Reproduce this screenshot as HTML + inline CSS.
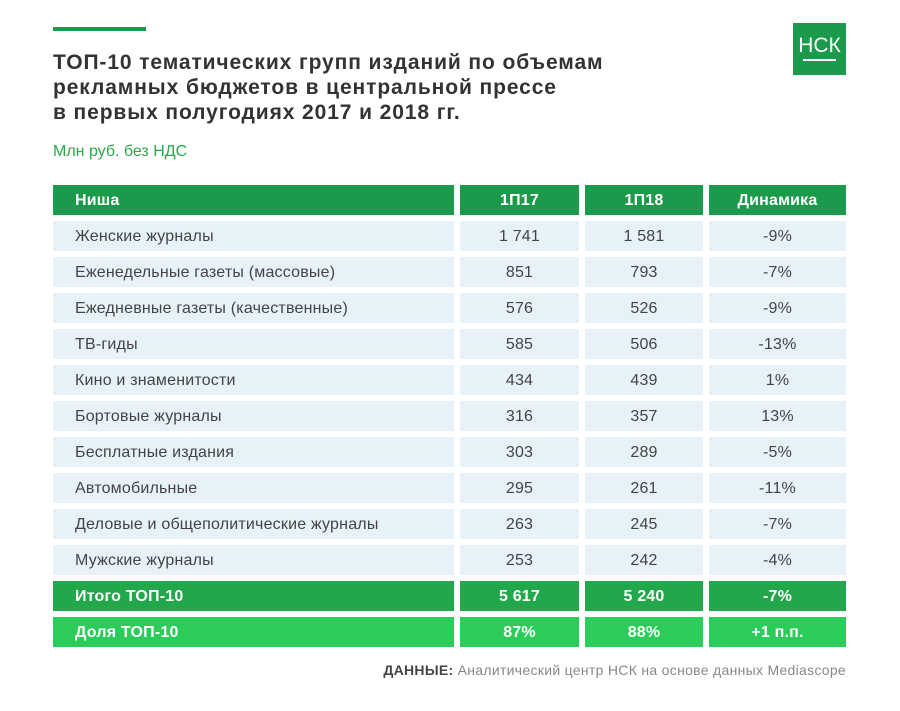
<!DOCTYPE html>
<html><head><meta charset="utf-8"><style>
body{margin:0;width:900px;height:711px;background:#fff;font-family:"Liberation Sans","DejaVu Sans",sans-serif;position:relative;overflow:hidden}
.a{position:absolute}
.cell{position:absolute;height:30px;line-height:32px;font-size:16px;color:#444;text-align:center;letter-spacing:0.2px}
.l{text-align:left;padding-left:22px;box-sizing:border-box}
.h{background:#1a9a4a;color:#fff;font-weight:bold}
.r{background:#e6f1f8}
.t{background:#22a84a;color:#fff;font-weight:bold}
.s{background:#2bcc5a;color:#fff;font-weight:bold}
</style></head><body>
<div class="a" style="left:53px;top:27px;width:93px;height:4px;background:#1a9a4a"></div>
<div class="a" style="left:53px;top:50px;font-size:21px;font-weight:bold;color:#333;line-height:25px;letter-spacing:0.9px">ТОП-10 тематических групп изданий по объемам<br>рекламных бюджетов в центральной прессе<br>в первых полугодиях 2017 и 2018 гг.</div>
<div class="a" style="left:53px;top:143px;font-size:16px;color:#2aa84a">Млн руб. без НДС</div>
<div class="a" style="left:793px;top:23px;width:53px;height:52px;background:#1a9a4a;color:#fff;font-size:21px;text-align:center;line-height:46px">НСК<div class="a" style="left:10px;top:36px;width:33px;height:2px;background:#fff"></div></div>
<div id="tbl"></div>
<div class="a" style="right:54px;top:662px;font-size:14px;color:#888;letter-spacing:0.3px"><b style="color:#444">ДАННЫЕ:</b>  Аналитический центр НСК на основе данных Mediascope</div>
<script>
const niches=["Женские журналы","Еженедельные газеты (массовые)","Ежедневные газеты (качественные)","ТВ-гиды","Кино и знаменитости","Бортовые журналы","Бесплатные издания","Автомобильные","Деловые и общеполитические журналы","Мужские журналы"];
const v17=["1 741","851","576","585","434","316","303","295","263","253"];
const v18=["1 581","793","526","506","439","357","289","261","245","242"];
const dyn=["-9%","-7%","-9%","-13%","1%","13%","-5%","-11%","-7%","-4%"];
const header=["Ниша","1П17","1П18","Динамика"];
const total=["Итого ТОП-10","5 617","5 240","-7%"];
const share=["Доля ТОП-10","87%","88%","+1 п.п."];
const cols=[[53,401],[460,119],[585,118],[709,137]];
const tbl=document.getElementById('tbl');
function row(vals,y,cls,name){
 vals.forEach((v,i)=>{
  const d=document.createElement('div');
  d.className='cell '+cls+(i==0?' l':'');
  d.style.left=cols[i][0]+'px';d.style.width=cols[i][1]+'px';d.style.top=y+'px';
  d.textContent=v;
  
  
  tbl.appendChild(d);
 });
}
row(header,185,'h','header');
niches.forEach((n,i)=>row([n,v17[i],v18[i],dyn[i]],221+i*36,'r','row'+(i+1)));
row(total,221+niches.length*36,'t','total-row');
row(share,257+niches.length*36,'s','share-row');
</script>
</body></html>
